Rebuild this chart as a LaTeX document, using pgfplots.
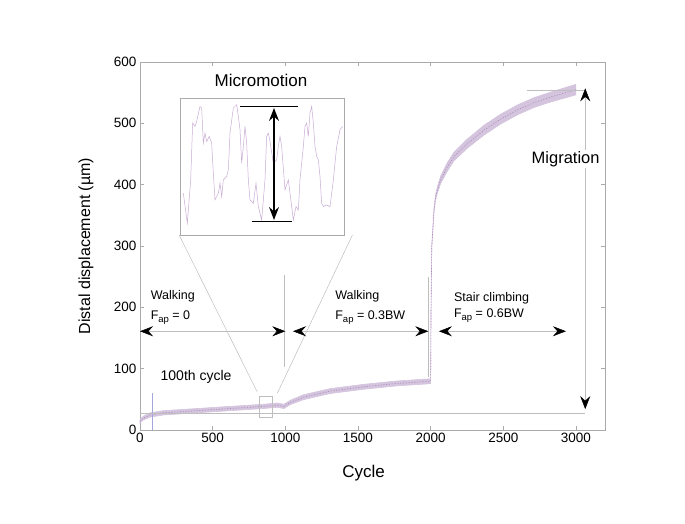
\documentclass[border=0pt]{standalone}
\usepackage{fontspec}
\setmainfont{Liberation Sans}
\usepackage{pgfplots}
\pgfplotsset{compat=1.18}
\usetikzlibrary{arrows.meta}

\definecolor{band}{RGB}{212,196,222}
\definecolor{bandd}{RGB}{170,140,185}
\definecolor{frame}{RGB}{170,170,170}
\definecolor{guide}{RGB}{190,190,190}
\definecolor{cyc}{RGB}{165,165,220}
\definecolor{trace}{RGB}{200,172,212}

\tikzset{hd/.tip={Stealth[length=13pt,width=10pt,inset=4.5pt,black]}}
\newcommand{\Fap}{F\raisebox{-0.45ex}{\fontsize{9.5}{10}\selectfont ap}}

\begin{document}
\begin{tikzpicture}
\begin{axis}[
    name=main, at={(140pt,93pt)}, anchor=south west,
    scale only axis, width=465pt, height=368pt,
    xmin=0, xmax=3200, ymin=0, ymax=600,
    xtick={0,500,...,3000}, ytick={0,100,...,600},
    tick align=inside, major tick length=4pt,
    axis line style={frame}, every tick/.style={frame},
    /pgf/number format/assume math mode=true,
    /pgf/number format/set thousands separator={},
    ticklabel style={font=\fontsize{13.5}{16}\selectfont},
    xlabel={Cycle}, ylabel={Distal displacement (µm)},
    every axis x label/.style={at={(axis description cs:0.481,-0.117)},anchor=center,font=\fontsize{17}{20}\selectfont},
    every axis y label/.style={at={(axis description cs:-0.116,0.5)},rotate=90,anchor=center,font=\fontsize{16}{19}\selectfont},
    clip=false
]
% measured band (upper edge, then lower edge back)
\addplot[fill=band, draw=band, line width=0.6pt] coordinates {
 (0,17) (20,22) (69,28) (160,31.5) (390,35) (620,38.5) (850,42) (945,44) (990,42)
 (1035,48.5) (1125,57.5) (1310,67.5) (1540,74.5) (1770,80) (2000,83.5)
 (2003,202) (2008,302.5) (2016,333) (2023,361.5) (2034,383) (2046,396) (2069,414)
 (2115,436) (2161,453) (2253,474.5) (2368,497) (2483,515) (2598,530) (2713,542)
 (2828,551) (2943,559.5) (3000,563.5)
 (3000,546.5) (2943,542.5) (2828,535) (2713,526) (2598,514) (2483,499) (2368,481)
 (2253,459.5) (2161,439) (2115,422) (2069,402) (2046,386) (2034,375) (2023,354.5)
 (2016,327) (2008,297.5) (2003,198) (2000,75.5) (1770,72) (1540,66.5) (1310,59.5)
 (1125,49.5) (1035,41.5) (990,35) (945,37) (850,35) (620,31.5) (390,28) (160,24.5)
 (69,21) (20,16) (0,11)
} -- cycle;
% centre of band, dashed for texture
\addplot[bandd, line width=0.6pt, dash pattern=on 1.2pt off 1.6pt] coordinates {
 (0,14) (20,19) (69,24.5) (160,28) (390,31.5) (620,35) (850,38.5) (945,40.5) (990,38.5)
 (1035,45) (1125,53.5) (1310,63.5) (1540,70.5) (1770,76) (2000,79.5)
 (2003,200) (2008,300) (2016,330) (2023,358) (2034,379) (2046,391) (2069,408)
 (2115,429) (2161,446) (2253,467) (2368,489) (2483,507) (2598,522) (2713,534)
 (2828,543) (2943,551) (3000,555)
};

% guide lines
\draw[cyc, line width=0.5pt] (axis cs:85,0) -- (axis cs:85,60);
\draw[guide, line width=0.5pt] (axis cs:0,27) -- (axis cs:3064,27);
\draw[guide, line width=0.5pt] (axis cs:2662,554) -- (axis cs:3064,554);
\draw[guide, line width=0.5pt] (axis cs:995,103) -- (axis cs:995,253);
\draw[guide, line width=0.5pt] (axis cs:1981,87) -- (axis cs:1981,250);
\draw[guide, line width=0.5pt] (axis cs:821,20) rectangle (axis cs:908,55);
\draw[guide, line width=0.5pt] (axis cs:269,318) -- (axis cs:807,62);
\draw[guide, line width=0.5pt] (axis cs:1462,318) -- (axis cs:945,60);

% double arrows
\draw[guide, line width=0.5pt, {hd}-{hd}] (axis cs:0,161) -- (axis cs:1000,161);
\draw[guide, line width=0.5pt, {hd}-{hd}] (axis cs:1053,161) -- (axis cs:1984,161);
\draw[guide, line width=0.5pt, {hd}-{hd}] (axis cs:2057,161) -- (axis cs:2931,161);
\draw[guide, line width=0.5pt, {hd}-{hd}] (axis cs:3064,34) -- (axis cs:3064,557);

% text
\node[anchor=west, font=\fontsize{12.5}{15}\selectfont] at (axis cs:50,218) {Walking};
\node[anchor=west, font=\fontsize{12.5}{15}\selectfont] at (axis cs:50,183) {\Fap{} = 0};
\node[anchor=west, font=\fontsize{12.5}{15}\selectfont] at (axis cs:1320,218) {Walking};
\node[anchor=west, font=\fontsize{12.5}{15}\selectfont] at (axis cs:1320,183) {\Fap{} = 0.3BW};
\node[anchor=west, font=\fontsize{12.5}{15}\selectfont] at (axis cs:2137,215) {Stair climbing};
\node[anchor=west, font=\fontsize{12.5}{15}\selectfont] at (axis cs:2137,187) {\Fap{} = 0.6BW};
\node[anchor=west, font=\fontsize{14}{16}\selectfont] at (axis cs:118,87) {100th cycle};
\node[font=\fontsize{16.5}{19}\selectfont, fill=white, inner sep=1pt] at (axis cs:2929,442) {Migration};
\end{axis}

% inset
\begin{axis}[
    at={(180pt,288pt)}, anchor=south west,
    scale only axis, width=164pt, height=137pt,
    xmin=30, xmax=522, ymin=55, ymax=465, y dir=reverse,
    ticks=none, axis line style={frame},
    axis background/.style={fill=white},
    clip=false
]
\addplot[trace, line width=0.5pt] coordinates {
 (40,340) (52,430) (62,300) (68,130) (75,140) (80,125) (90,80) (95,85) (100,190)
 (105,160) (110,185) (118,170) (125,190) (130,280) (135,360) (145,340) (150,310)
 (155,350) (160,300) (170,290) (175,270) (180,160) (190,85) (200,75) (205,110)
 (210,150) (215,250) (220,200) (225,140) (230,190) (235,300) (240,360) (250,370)
 (258,310) (265,380) (275,420) (285,300) (290,170) (295,160) (300,185) (310,250)
 (320,240) (325,200) (330,170) (335,200) (345,330) (355,300) (365,380) (370,420)
 (378,380) (385,390) (390,300) (400,200) (405,140) (410,130) (415,170) (420,100)
 (425,80) (430,130) (435,200) (440,230) (445,240) (450,290) (455,370) (460,380)
 (470,375) (480,380) (490,300) (500,200) (510,150) (518,140)
};
\draw[black, line width=1.6pt] (axis cs:210,80) -- (axis cs:385,80);
\draw[black, line width=1.6pt] (axis cs:245,425) -- (axis cs:365,425);
\draw[black, line width=1.6pt, {hd}-{hd}] (axis cs:312,85) -- (axis cs:312,420);
\end{axis}

\node[font=\fontsize{17}{20}\selectfont] at (261pt,443pt) {Micromotion};

\pgfresetboundingbox
\path[use as bounding box] (0pt,0pt) rectangle (685pt,523pt);
\end{tikzpicture}
\end{document}
